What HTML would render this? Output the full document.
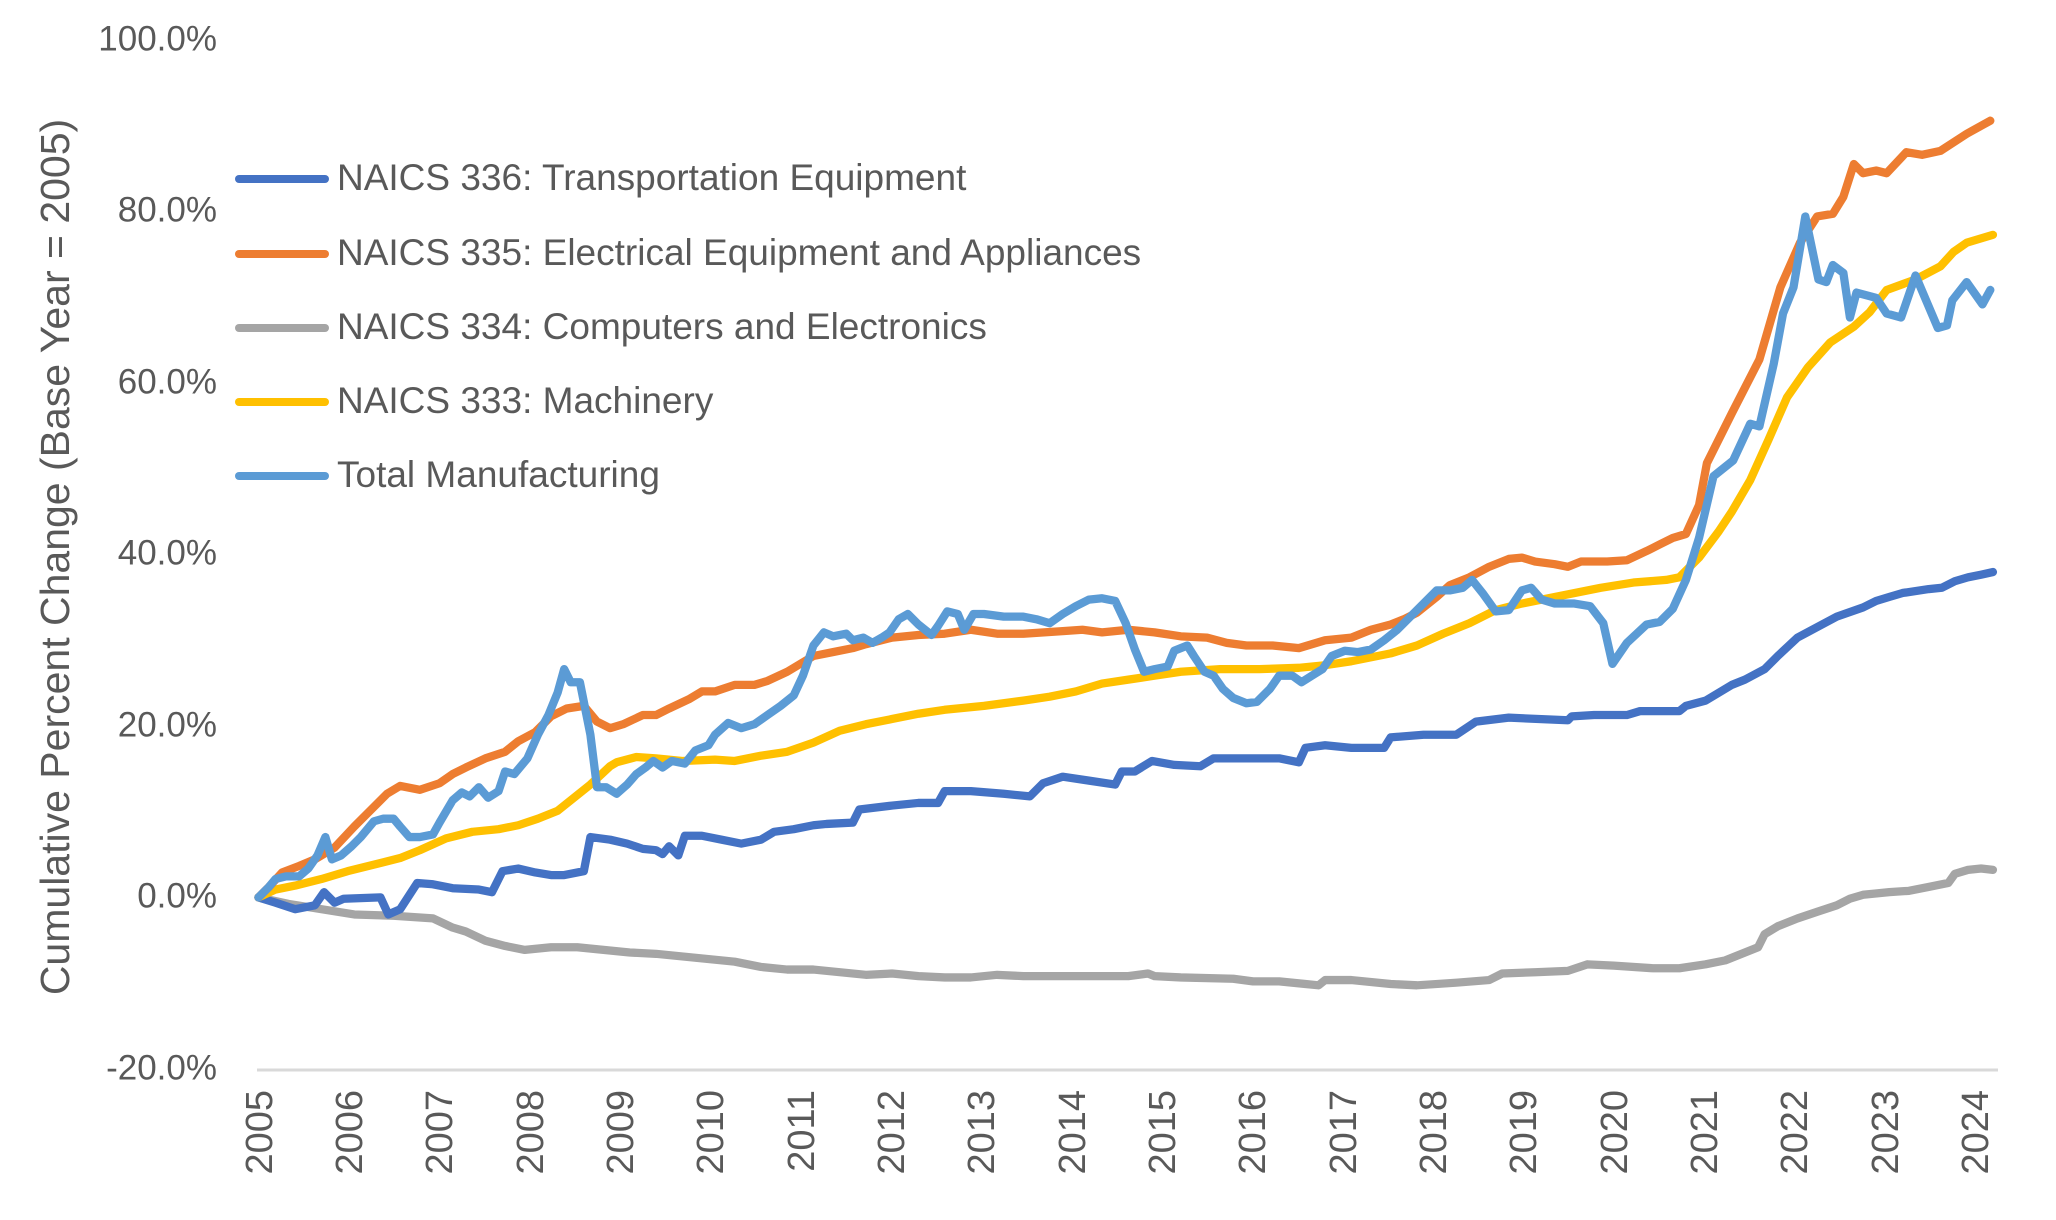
<!DOCTYPE html>
<html><head><meta charset="utf-8"><style>
html,body{margin:0;padding:0;background:#fff;}
svg{display:block;font-family:"Liberation Sans",sans-serif;}
</style></head><body>
<svg width="2056" height="1220" viewBox="0 0 2056 1220" xmlns="http://www.w3.org/2000/svg">
<rect width="2056" height="1220" fill="#fff"/>
<line x1="257" y1="1070" x2="1998" y2="1070" stroke="#D9D9D9" stroke-width="3"/>
<g fill="#595959" font-size="35" text-anchor="end" dominant-baseline="middle">
<text x="217" y="41">100.0%</text>
<text x="217" y="212">80.0%</text>
<text x="217" y="384">60.0%</text>
<text x="217" y="555">40.0%</text>
<text x="217" y="727">20.0%</text>
<text x="217" y="898">0.0%</text>
<text x="217" y="1070">-20.0%</text>
</g>
<g fill="#595959" font-size="38" text-anchor="end">
<text transform="translate(272,1090) rotate(-90)">2005</text>
<text transform="translate(362,1090) rotate(-90)">2006</text>
<text transform="translate(452,1090) rotate(-90)">2007</text>
<text transform="translate(543,1090) rotate(-90)">2008</text>
<text transform="translate(633,1090) rotate(-90)">2009</text>
<text transform="translate(723,1090) rotate(-90)">2010</text>
<text transform="translate(814,1090) rotate(-90)">2011</text>
<text transform="translate(904,1090) rotate(-90)">2012</text>
<text transform="translate(994,1090) rotate(-90)">2013</text>
<text transform="translate(1085,1090) rotate(-90)">2014</text>
<text transform="translate(1175,1090) rotate(-90)">2015</text>
<text transform="translate(1265,1090) rotate(-90)">2016</text>
<text transform="translate(1356,1090) rotate(-90)">2017</text>
<text transform="translate(1446,1090) rotate(-90)">2018</text>
<text transform="translate(1536,1090) rotate(-90)">2019</text>
<text transform="translate(1627,1090) rotate(-90)">2020</text>
<text transform="translate(1717,1090) rotate(-90)">2021</text>
<text transform="translate(1807,1090) rotate(-90)">2022</text>
<text transform="translate(1898,1090) rotate(-90)">2023</text>
<text transform="translate(1988,1090) rotate(-90)">2024</text>
</g>
<text transform="translate(69,557) rotate(-90)" fill="#595959" font-size="41" text-anchor="middle">Cumulative Percent Change (Base Year = 2005)</text>

<g transform="scale(1.312)" fill="none" stroke-width="6.3" stroke-linejoin="round" stroke-linecap="round">
<polyline stroke="#A5A5A5" points="197,684 220,689 245,693 270,697 300,698 330,700 345,707 355,710 370,717 385,721 400,724 420,722 440,722 460,724 480,726 500,727 520,729 540,731 560,733 580,737 600,739 620,739 640,741 660,743 680,742 700,744 720,745 740,745 760,743 780,744 820,744 860,744 875,742 880,744 900,745 940,746 955,748 975,748 995,750 1005,751 1010,747 1030,747 1060,750 1080,751 1110,749 1135,747 1145,742 1170,741 1195,740 1210,735 1230,736 1260,738 1280,738 1300,735 1315,732 1330,726 1340,722 1345,712 1355,706 1370,700 1385,695 1400,690 1410,685 1420,682 1440,680 1455,679 1470,676 1485,673 1490,666 1500,663 1510,662 1519,663"/>
<polyline stroke="#4472C4" points="197,684 210,688 225,693 240,690 247,680 255,688 262,685 290,684 296,697 305,693 318,673 330,674 345,677 365,678 375,680 383,664 395,662 408,665 420,667 430,667 445,664 450,638 465,640 478,643 490,647 500,648 505,651 510,645 517,652 522,637 535,637 550,640 565,643 580,640 590,634 605,632 620,629 630,628 650,627 655,617 680,614 700,612 715,612 720,603 740,603 765,605 785,607 795,597 810,592 830,595 850,598 855,588 865,588 878,580 895,583 915,584 925,578 945,578 975,578 990,581 995,570 1010,568 1030,570 1055,570 1060,562 1085,560 1110,560 1125,550 1150,547 1195,549 1198,546 1215,545 1230,545 1240,545 1250,542 1280,542 1285,538 1300,534 1320,522 1330,518 1345,510 1355,500 1370,486 1385,478 1400,470 1420,463 1430,458 1440,455 1450,452 1470,449 1480,448 1490,443 1500,440 1510,438 1519,436"/>
<polyline stroke="#FFC000" points="197,684 210,678 225,675 245,670 265,664 285,659 305,654 320,648 340,639 360,634 380,632 395,629 410,624 425,618 435,610 450,598 465,584 470,581 485,577 500,578 520,580 545,579 560,580 580,576 600,573 620,566 640,557 660,552 680,548 700,544 720,541 750,538 780,534 800,531 820,527 840,521 860,518 880,515 900,512 930,510 960,510 990,509 1010,507 1030,504 1060,498 1080,492 1100,483 1120,475 1140,465 1160,460 1180,456 1200,452 1220,448 1245,444 1270,442 1280,440 1295,425 1310,405 1320,390 1334,366 1348,335 1362,303 1378,280 1395,261 1413,249 1425,238 1438,221 1460,213 1479,203 1489,192 1499,185 1519,179"/>
<polyline stroke="#ED7D31" points="197,684 205,676 215,665 228,660 240,655 255,646 270,630 285,615 295,605 305,599 320,602 335,597 345,590 355,585 370,578 385,573 395,565 408,558 420,546 432,540 445,538 455,550 465,555 475,552 490,545 500,545 510,540 525,533 535,527 545,527 560,522 575,522 585,519 600,512 610,506 620,500 635,497 650,494 660,491 680,486 700,484 720,483 740,480 760,483 780,483 810,481 825,480 840,482 860,480 880,482 900,485 920,486 935,490 950,492 970,492 990,494 1010,488 1030,486 1045,480 1060,476 1070,472 1080,467 1095,455 1105,446 1120,440 1135,432 1150,426 1160,425 1170,428 1185,430 1195,432 1205,428 1225,428 1240,427 1255,420 1265,415 1275,410 1285,407 1295,385 1301,353 1320,315 1341,274 1357,219 1372,185 1385,165 1397,163 1405,150 1413,125 1420,132 1430,130 1438,132 1453,116 1465,118 1479,115 1499,102 1517,92"/>
<polyline stroke="#5B9BD5" points="197,684 205,676 210,670 218,668 228,668 235,662 242,652 248,638 253,655 260,652 268,645 275,638 285,626 292,624 300,624 305,630 312,638 320,638 330,636 335,627 345,610 352,604 358,607 365,600 372,608 380,603 385,588 392,590 402,578 410,560 418,545 425,528 430,510 435,520 442,520 450,560 455,600 462,600 470,605 478,598 485,590 492,585 498,580 505,585 512,580 522,582 530,572 540,568 545,560 555,551 565,555 575,552 585,545 595,538 605,530 612,515 620,492 628,482 635,485 645,483 650,488 658,486 665,490 672,486 678,482 685,472 692,468 700,476 710,484 715,477 722,466 730,468 735,480 742,468 750,468 765,470 780,470 790,472 800,475 810,468 820,462 830,457 840,456 850,458 858,475 865,495 872,512 880,510 890,508 895,496 905,492 910,500 918,512 925,515 932,525 940,532 950,536 958,535 968,525 975,515 985,515 992,520 1000,515 1008,510 1015,500 1025,496 1035,497 1045,495 1055,488 1065,480 1075,470 1085,460 1095,450 1105,450 1115,448 1122,442 1130,452 1140,466 1150,465 1160,450 1167,448 1175,457 1185,460 1200,460 1212,462 1222,475 1229,506 1240,490 1255,476 1265,474 1275,464 1285,442 1295,410 1306,363 1321,351 1334,323 1341,325 1352,277 1359,239 1367,219 1376,165 1386,213 1392,215 1397,202 1405,208 1410,242 1415,223 1430,227 1438,239 1449,242 1460,210 1477,250 1484,248 1488,229 1499,215 1511,232 1517,221"/>
</g>

<g stroke-width="8" stroke-linecap="round">
<line x1="239" y1="179" x2="325" y2="179" stroke="#4472C4"/>
<line x1="239" y1="254" x2="325" y2="254" stroke="#ED7D31"/>
<line x1="239" y1="328" x2="325" y2="328" stroke="#A5A5A5"/>
<line x1="239" y1="402" x2="325" y2="402" stroke="#FFC000"/>
<line x1="239" y1="476" x2="325" y2="476" stroke="#5B9BD5"/>
</g>
<g fill="#595959" font-size="37" dominant-baseline="middle">
<text x="337" y="180">NAICS 336: Transportation Equipment</text>
<text x="337" y="255">NAICS 335: Electrical Equipment and Appliances</text>
<text x="337" y="329">NAICS 334: Computers and Electronics</text>
<text x="337" y="403">NAICS 333: Machinery</text>
<text x="337" y="477">Total Manufacturing</text>
</g>
</svg>
</body></html>
